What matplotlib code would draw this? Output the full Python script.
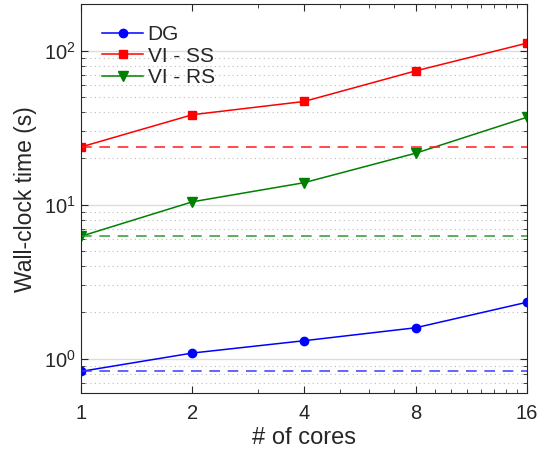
import numpy as np
import matplotlib
matplotlib.use("Agg")
from matplotlib import pyplot as plt
from matplotlib.ticker import LogLocator, NullFormatter, FixedLocator

plt.rcParams['font.family'] = ['Liberation Sans', 'DejaVu Sans']

cores = [1, 2, 4, 8, 16]
dg = [0.828, 1.09, 1.31, 1.59, 2.33]
vi_ss = [23.7, 38.4, 46.8, 73.9, 112.0]
vi_rs = [6.24, 10.45, 13.9, 21.6, 37.0]

txt = '#262626'

fig = plt.figure(figsize=(5.39, 4.53), dpi=100)
ax = fig.add_axes([0.150, 0.1325, 0.828, 0.858])
ax.set_xscale('log', base=2)
ax.set_yscale('log')

ax.plot(cores, dg, '-o', color='blue', lw=1.1, ms=6, label='DG')
ax.plot(cores, vi_ss, '-s', color='red', lw=1.1, ms=5.2, label='VI - SS')
ax.plot(cores, vi_rs, '-v', color='green', lw=1.1, ms=7, label='VI - RS')

# reference levels: single-core time
ax.plot([cores[0], cores[-1]], [dg[0]] * 2, '--', color='#3a3aff', lw=1.1, dashes=(7, 5))
ax.plot([cores[0], cores[-1]], [vi_ss[0]] * 2, '--', color='#ff1a1a', lw=1.1, dashes=(7, 5))
ax.plot([cores[0], cores[-1]], [vi_rs[0]] * 2, '--', color='#2e9a2e', lw=1.1, dashes=(7, 5))

ax.set_xlim(1, 16)
ax.set_ylim(0.6, 200)
ax.xaxis.set_major_locator(FixedLocator(cores))
ax.set_xticklabels([str(c) for c in cores])
ax.xaxis.set_minor_locator(FixedLocator([3, 5, 6, 7, 9, 10, 11, 12, 13, 14, 15]))
ax.xaxis.set_minor_formatter(NullFormatter())
ax.yaxis.set_major_locator(LogLocator(base=10))
ax.yaxis.set_minor_locator(LogLocator(base=10, subs=np.arange(2, 10)))
ax.yaxis.set_minor_formatter(NullFormatter())

ax.grid(True, which='major', axis='y', color='#dcdcdc', lw=1.0, ls='-')
ax.grid(True, which='minor', axis='y', color='#bdbdbd', lw=0.8, ls=(0, (1, 3)))
ax.set_axisbelow(True)

ax.tick_params(which='both', direction='in', top=True, right=True, colors=txt, labelsize=14.5)
ax.tick_params(which='major', length=5, width=0.8)
ax.tick_params(which='minor', length=3, width=0.6)
ax.tick_params(axis='x', pad=8)
for s in ax.spines.values():
    s.set_color(txt)
    s.set_linewidth(0.8)

ax.set_xlabel('# of cores', fontsize=17, color=txt, labelpad=3)
ax.set_ylabel('Wall-clock time (s)', fontsize=16.5, color=txt, labelpad=5)

leg = ax.legend(loc='upper left', frameon=False, fontsize=15, handlelength=2.0,
                labelspacing=0.12, borderaxespad=0.65, borderpad=0.35, handletextpad=0.2)
for t in leg.get_texts():
    t.set_color(txt)

fig.savefig('out.png', dpi=100)
